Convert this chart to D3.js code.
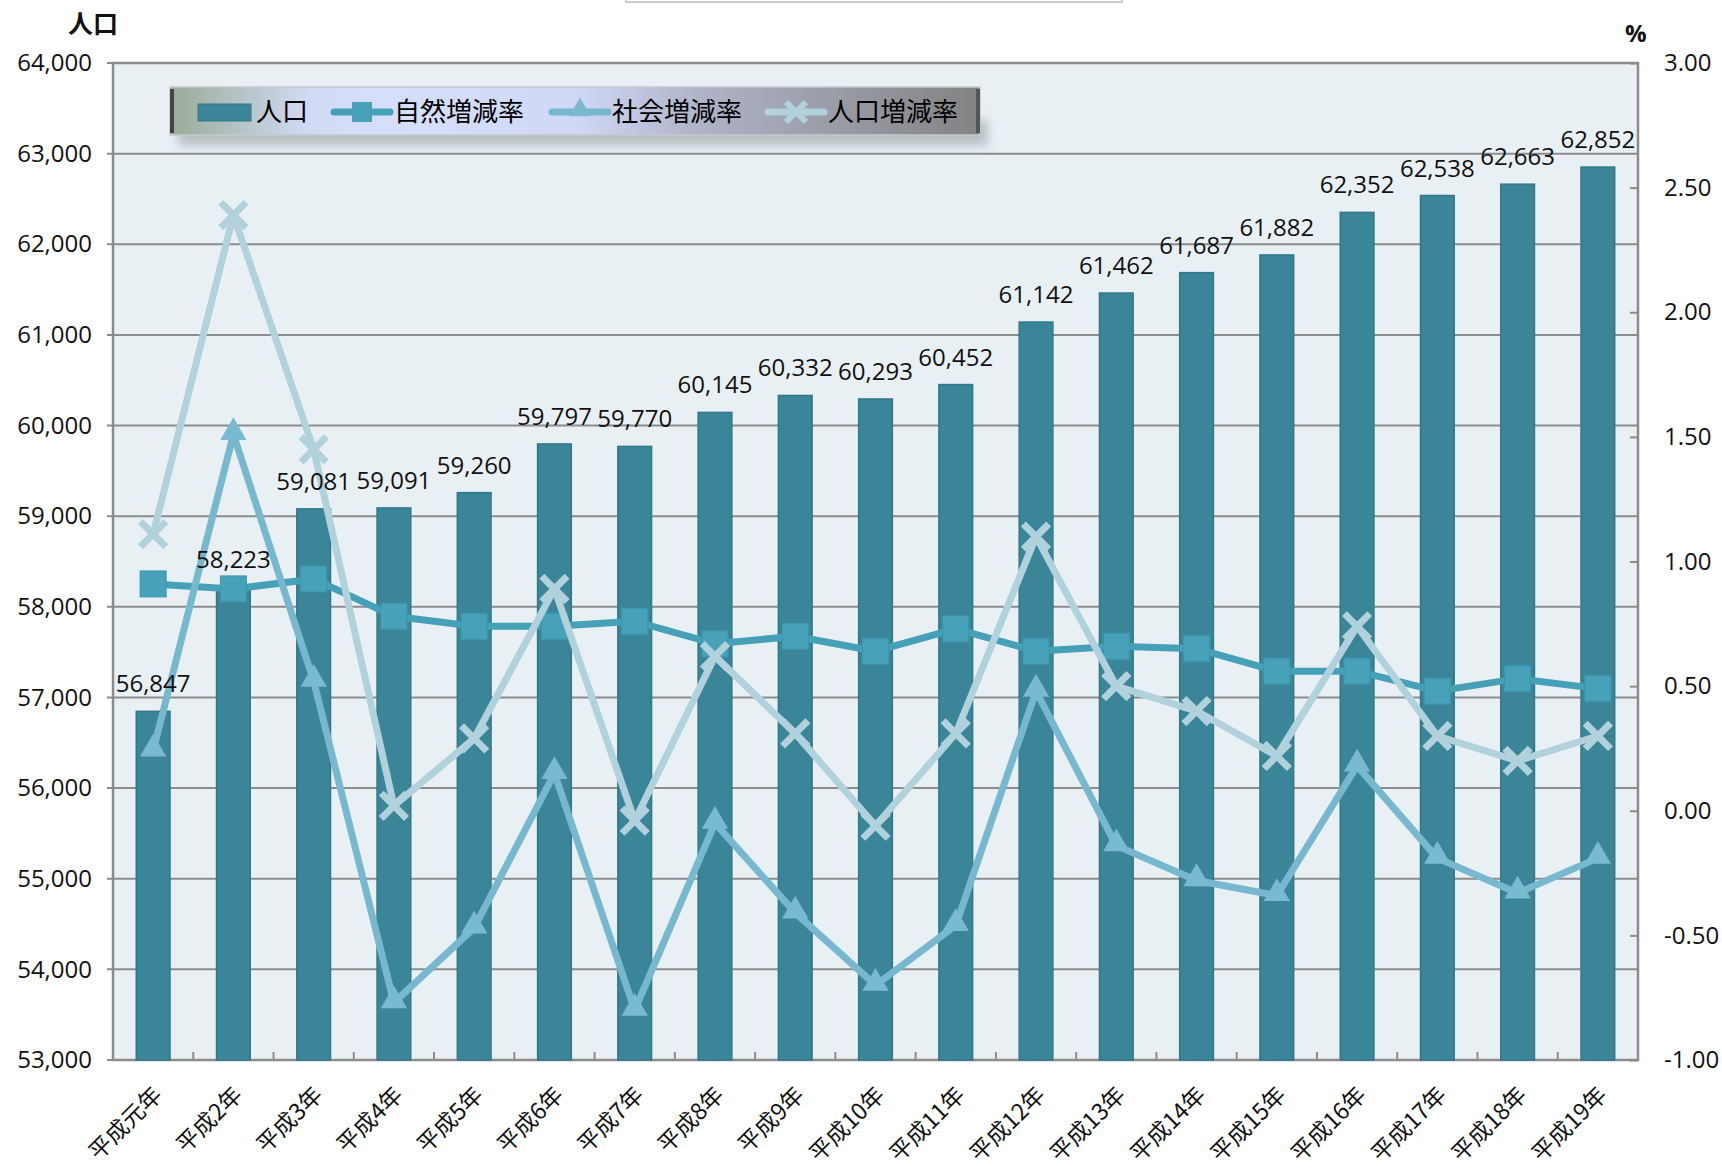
<!DOCTYPE html>
<html lang="ja">
<head>
<meta charset="UTF-8">
<title>人口推移</title>
<script src="https://cdn.jsdelivr.net/npm/d3@7"></script>
<style>
  body { margin: 0; background: #fff; }
  text { font-family: "Open Sans", "Noto Sans CJK JP", sans-serif; }
  .jp { font-family: "Noto Sans CJK JP", sans-serif; }
</style>
</head>
<body>
<svg id="chart" width="1722" height="1174"></svg>
<script>
// data
var years = ["平成元年","平成2年","平成3年","平成4年","平成5年","平成6年","平成7年","平成8年","平成9年","平成10年",
             "平成11年","平成12年","平成13年","平成14年","平成15年","平成16年","平成17年","平成18年","平成19年"];
var population = [56847,58223,59081,59091,59260,59797,59770,60145,60332,60293,
                  60452,61142,61462,61687,61882,62352,62538,62663,62852];
var naturalRate = [0.91,0.89,0.93,0.78,0.74,0.74,0.76,0.67,0.70,0.64,0.73,0.64,0.66,0.65,0.56,0.56,0.48,0.53,0.49];
var socialRate  = [0.24,1.51,0.52,-0.77,-0.47,0.15,-0.80,-0.05,-0.41,-0.70,-0.46,0.48,-0.14,-0.28,-0.34,0.18,-0.19,-0.33,-0.19];
var totalRate   = [1.11,2.39,1.45,0.02,0.29,0.89,-0.04,0.62,0.31,-0.06,0.31,1.10,0.50,0.40,0.22,0.74,0.30,0.20,0.30];
var leftTicks = d3.range(53000, 64001, 1000);
var rightTicks = [-1,-0.5,0,0.5,1,1.5,2,2.5,3];

var svg = d3.select("#chart");
var L = 113, R = 1638, T = 63, B = 1060;

var x = d3.scaleBand().domain(years).range([L, R]);
var yL = d3.scaleLinear().domain([53000, 64000]).range([B, T]);
var yR = d3.scaleLinear().domain([-1, 3]).range([B, T]);
var cx = function(i) { return x(years[i]) + x.bandwidth() / 2; };

var defs = svg.append("defs");
var lg = defs.append("linearGradient").attr("id", "legGrad");
[["0%","#9aab97"],["17%","#d0daf3"],["25%","#d5dffb"],["50%","#d0d8f6"],["66%","#aeb2c6"],["100%","#838383"]]
  .forEach(function(s) { lg.append("stop").attr("offset", s[0]).attr("stop-color", s[1]); });
var sh = defs.append("filter").attr("id", "shadow").attr("x", "-5%").attr("y", "-50%").attr("width", "110%").attr("height", "200%");
sh.append("feGaussianBlur").attr("stdDeviation", 5);

// little box cut off at the top edge
svg.append("rect").attr("x", 626).attr("y", -20).attr("width", 496).attr("height", 22)
  .attr("fill", "#fff").attr("stroke", "#ccc").attr("stroke-width", 2);

// plot area
svg.append("rect").attr("x", L).attr("y", T).attr("width", R - L).attr("height", B - T)
  .attr("fill", "#e8f0f4");

svg.append("g").selectAll("line").data(leftTicks).enter().append("line")
  .attr("x1", L - 6).attr("x2", R).attr("y1", d => yL(d)).attr("y2", d => yL(d))
  .attr("stroke", "#8c8c8c").attr("stroke-width", 2);

svg.append("rect").attr("x", L).attr("y", T).attr("width", R - L).attr("height", B - T)
  .attr("fill", "none").attr("stroke", "#8c8c8c").attr("stroke-width", 2.5);

// left axis
var axL = svg.append("g").attr("transform", "translate(" + L + ",0)")
  .call(d3.axisLeft(yL).tickValues(leftTicks).tickFormat(d3.format(",")).tickSize(0).tickPadding(21));
axL.select(".domain").remove();
axL.selectAll("text").attr("font-size", 24).attr("fill", "#111").attr("font-family", "Open Sans");

// right axis
var fmtR = function(d) { return d3.format(".2f")(d).replace("−", "-"); };
var axR = svg.append("g").attr("transform", "translate(" + R + ",0)")
  .call(d3.axisRight(yR).tickValues(rightTicks).tickFormat(fmtR).tickSizeInner(-8).tickSizeOuter(0).tickPadding(26));
axR.select(".domain").remove();
axR.selectAll("line").attr("stroke", "#8c8c8c").attr("stroke-width", 2);
axR.selectAll("text").attr("font-size", 24).attr("fill", "#111").attr("font-family", "Open Sans");

// bottom ticks between categories
svg.append("g").selectAll("line").data(d3.range(1, years.length)).enter().append("line")
  .attr("x1", d => L + d * x.step()).attr("x2", d => L + d * x.step())
  .attr("y1", B).attr("y2", B - 8).attr("stroke", "#8c8c8c").attr("stroke-width", 2);

// bars
var bw = x.bandwidth() * 0.42;
svg.append("g").selectAll("rect").data(population).enter().append("rect")
  .attr("x", (d, i) => cx(i) - bw / 2).attr("width", bw)
  .attr("y", d => yL(d)).attr("height", d => B - yL(d))
  .attr("fill", "#3a8598").attr("stroke", "#31788b").attr("stroke-width", 1.5);

// lines
var line = d3.line().x((d, i) => cx(i)).y(d => yR(d));
function series(data, color, width) {
  svg.append("path").datum(data).attr("d", line).attr("fill", "none")
    .attr("stroke", color).attr("stroke-width", width).attr("stroke-linejoin", "round");
}
series(naturalRate, "#45a0b8", 7);
svg.append("g").selectAll("rect").data(naturalRate).enter().append("rect")
  .attr("x", (d, i) => cx(i) - 13).attr("y", d => yR(d) - 13).attr("width", 26).attr("height", 26)
  .attr("fill", "#46a1b9").attr("stroke", "#3c97af").attr("stroke-width", 1);

series(socialRate, "#77b8cf", 7);
svg.append("g").selectAll("path").data(socialRate).enter().append("path")
  .attr("d", d3.symbol().type(d3.symbolTriangle).size(300))
  .attr("transform", (d, i) => "translate(" + cx(i) + "," + (yR(d) - 2) + ")")
  .attr("fill", "#7abad1");

series(totalRate, "#b1d2dd", 7);
svg.append("g").selectAll("path").data(totalRate).enter().append("path")
  .attr("d", d3.symbol().type(d3.symbolTimes).size(420))
  .attr("transform", (d, i) => "translate(" + cx(i) + "," + yR(d) + ")")
  .attr("fill", "none").attr("stroke", "#b1d2dd").attr("stroke-width", 7);

// bar labels
svg.append("g").selectAll("text").data(population).enter().append("text")
  .attr("x", (d, i) => cx(i)).attr("y", d => yL(d) - 19)
  .attr("text-anchor", "middle").attr("font-size", 24).attr("fill", "#111")
  .attr("font-family", "Open Sans").text(d3.format(","));

// category labels
svg.append("g").selectAll("text").data(years).enter().append("text")
  .attr("class", "jp")
  .attr("transform", (d, i) => "translate(" + (cx(i) - 1) + "," + (B + 25) + ") rotate(-45)")
  .attr("text-anchor", "end").attr("dy", "0.7em").attr("font-size", 23).attr("fill", "#111").text(d => d);

// axis titles
svg.append("text").attr("class", "jp").attr("x", 68).attr("y", 33).attr("font-size", 25)
  .attr("font-weight", "bold").attr("fill", "#111").text("人口");
svg.append("text").attr("x", 1625).attr("y", 42).attr("font-size", 24)
  .attr("font-weight", "bold").attr("fill", "#111").text("%");

// legend
var leg = svg.append("g");
leg.append("rect").attr("x", 178).attr("y", 120).attr("width", 810).attr("height", 26)
  .attr("fill", "#9aa2a6").attr("opacity", 0.6).attr("filter", "url(#shadow)");
leg.append("rect").attr("x", 170).attr("y", 87).attr("width", 810).attr("height", 48)
  .attr("fill", "url(#legGrad)").attr("stroke", "#c4c8cc").attr("stroke-width", 1.5);
leg.append("rect").attr("x", 170).attr("y", 89).attr("width", 4).attr("height", 44).attr("fill", "#444");
leg.append("rect").attr("x", 976).attr("y", 89).attr("width", 4).attr("height", 44).attr("fill", "#555");

var ly = 112;
leg.append("rect").attr("x", 198).attr("y", ly - 8).attr("width", 53).attr("height", 17)
  .attr("fill", "#3a8598").attr("stroke", "#31788b");
leg.append("text").attr("class", "jp").attr("x", 256).attr("y", ly).attr("dy", "0.36em").attr("font-size", 26).text("人口");

function legLine(x0, color) {
  leg.append("line").attr("x1", x0).attr("x2", x0 + 56).attr("y1", ly).attr("y2", ly)
    .attr("stroke", color).attr("stroke-width", 7).attr("stroke-linecap", "round");
}
legLine(334, "#45a0b8");
leg.append("rect").attr("x", 362 - 10).attr("y", ly - 10).attr("width", 20).attr("height", 20).attr("fill", "#46a1b9");
leg.append("text").attr("class", "jp").attr("x", 394).attr("y", ly).attr("dy", "0.36em").attr("font-size", 26).text("自然増減率");

legLine(552, "#77b8cf");
leg.append("path").attr("d", d3.symbol().type(d3.symbolTriangle).size(200))
  .attr("transform", "translate(580," + (ly - 2) + ")").attr("fill", "#7abad1");
leg.append("text").attr("class", "jp").attr("x", 612).attr("y", ly).attr("dy", "0.36em").attr("font-size", 26).text("社会増減率");

legLine(768, "#b1d2dd");
leg.append("path").attr("d", d3.symbol().type(d3.symbolTimes).size(260))
  .attr("transform", "translate(796," + ly + ")").attr("fill", "none").attr("stroke", "#b1d2dd").attr("stroke-width", 6);
leg.append("text").attr("class", "jp").attr("x", 828).attr("y", ly).attr("dy", "0.36em").attr("font-size", 26).text("人口増減率");
</script>
</body>
</html>
